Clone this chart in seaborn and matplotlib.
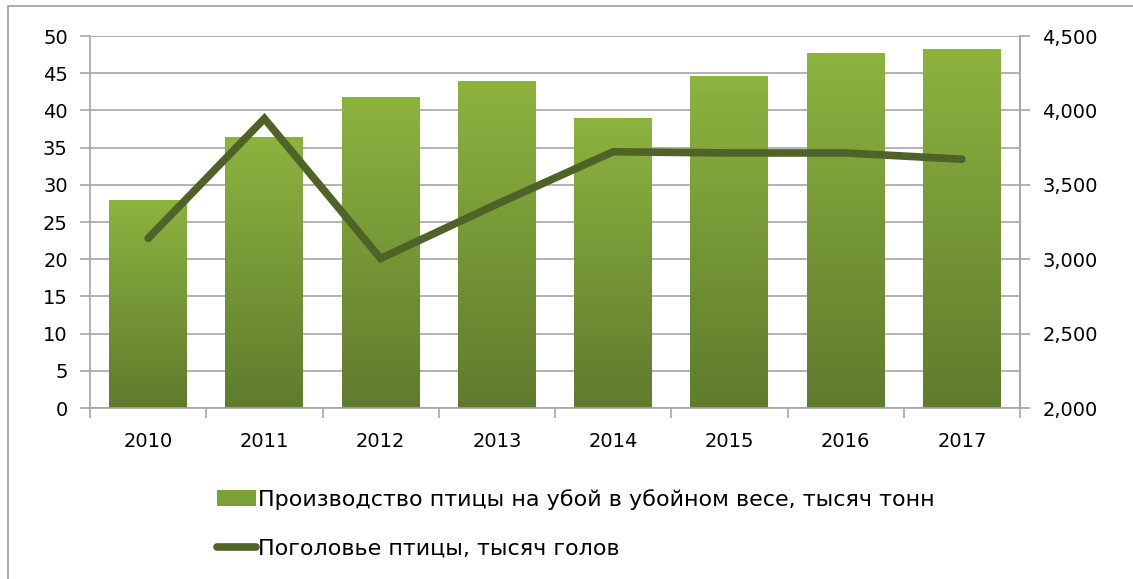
import numpy as np
import pandas as pd
import matplotlib
matplotlib.use("Agg")
import matplotlib.pyplot as plt
import seaborn as sns
from matplotlib.colors import LinearSegmentedColormap
from matplotlib.lines import Line2D
from matplotlib.patches import Patch

# Данные
years = ["2010", "2011", "2012", "2013", "2014", "2015", "2016", "2017"]
production = [28.0, 36.4, 41.8, 44.0, 39.0, 44.6, 47.7, 48.3]   # тысяч тонн
livestock = [3140, 3945, 3005, 3370, 3722, 3714, 3714, 3672]    # тысяч голов

label_bar = "Производство птицы на убой в убойном весе, тысяч тонн"
label_line = "Поголовье птицы, тысяч голов"

sns.set_theme(style="white")
plt.rcParams["font.family"] = ["DejaVu Sans"]
plt.rcParams["text.color"] = "black"
plt.rcParams["xtick.color"] = "black"
plt.rcParams["ytick.color"] = "black"

grid_col = "#A6A6A6"
top_col = "#8DB33F"
bot_col = "#5F7B2D"
line_col = "#4F6228"

fig = plt.figure(figsize=(11.33, 5.79), dpi=100)
ax = fig.add_axes([90 / 1133, 1 - 408 / 579, 930 / 1133, 372 / 579])

df = pd.DataFrame({"year": years, "prod": production})
sns.barplot(data=df, x="year", y="prod", color=top_col, width=0.67, ax=ax, zorder=2)

# градиентная заливка столбцов
cmap = LinearSegmentedColormap.from_list("g", [bot_col, top_col])
grad = np.linspace(0, 1, 256).reshape(-1, 1)
for p in ax.patches:
    x0, y0 = p.get_x(), p.get_y()
    w, h = p.get_width(), p.get_height()
    im = ax.imshow(grad, cmap=cmap, aspect="auto", origin="lower",
                   extent=[x0, x0 + w, y0, y0 + h], zorder=2)
    im.set_clip_path(p)
    p.set_facecolor("none")
    p.set_edgecolor("none")

ax.set_xlim(-0.5, len(years) - 0.5)
ax.set_ylim(0, 50)
ax.set_yticks(np.arange(0, 51, 5))
ax.yaxis.grid(True, color=grid_col, linewidth=1.2)
ax.set_axisbelow(True)
ax.set_xlabel("")
ax.set_ylabel("")
ax.tick_params(axis="y", labelsize=14, length=7, width=1.2, color=grid_col,
               labelcolor="black", pad=9, left=True)
ax.tick_params(axis="x", labelsize=14, length=0, pad=17, labelcolor="black")
# деления оси X между категориями
ax.set_xticks(np.arange(-0.5, len(years), 1), minor=True)
ax.tick_params(axis="x", which="minor", length=7, width=1.2, color=grid_col,
               bottom=True)
ax.spines["top"].set_visible(False)
for s in ["left", "right", "bottom"]:
    ax.spines[s].set_color(grid_col)
    ax.spines[s].set_linewidth(1.2)

ax2 = ax.twinx()
sns.lineplot(x=np.arange(len(years)), y=livestock, ax=ax2, color=line_col,
             linewidth=5.5, solid_capstyle="round", solid_joinstyle="miter",
             zorder=5)
ax2.set_ylim(2000, 4500)
ax2.set_yticks(np.arange(2000, 4501, 500))
ax2.set_yticklabels([f"{v:,}" for v in range(2000, 4501, 500)])
ax2.tick_params(axis="y", labelsize=14, length=7, width=1.2, color=grid_col,
                labelcolor="black", pad=9, right=True)
for s in ["top", "left", "bottom"]:
    ax2.spines[s].set_visible(False)
ax2.spines["right"].set_color(grid_col)
ax2.spines["right"].set_linewidth(1.2)
ax2.grid(False)

# легенда
handles = [Patch(facecolor="#7BA036", edgecolor="none"),
           Line2D([0], [0], color=line_col, linewidth=5.5, solid_capstyle="round")]
fig.legend(handles, [label_bar, label_line], loc="upper left",
           bbox_to_anchor=(197 / 1133, 1 - 469 / 579), frameon=False,
           handlelength=1.75, handletextpad=0.08, labelspacing=1.3,
           prop={"size": 16})

# рамка диаграммы
fig.add_artist(Line2D([8 / 1133, 1], [1 - 6 / 579, 1 - 6 / 579], color="#A0A0A0", lw=1.2))
fig.add_artist(Line2D([8 / 1133, 8 / 1133], [0, 1 - 6 / 579], color="#A0A0A0", lw=1.2))

fig.savefig("out.png", dpi=100)
